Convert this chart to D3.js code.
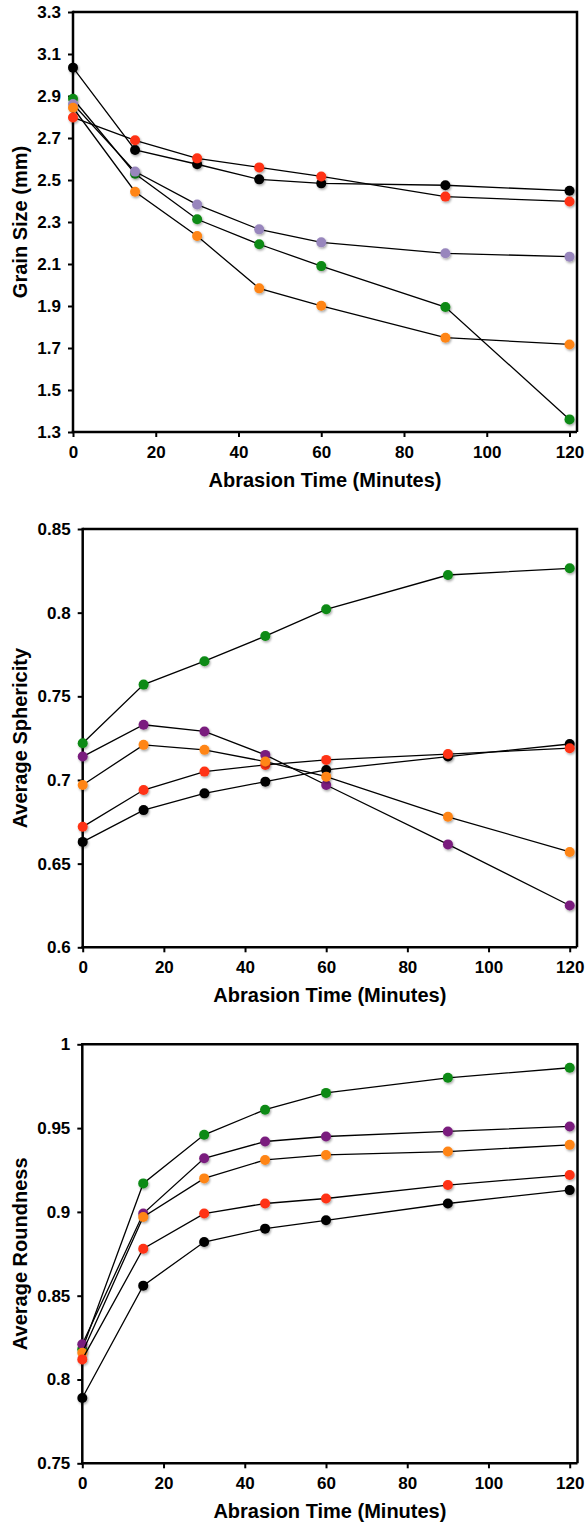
<!DOCTYPE html>
<html>
<head>
<meta charset="utf-8">
<script src="https://cdn.jsdelivr.net/npm/d3@7"></script>
<style>
  body { margin: 0; background: #fff; }
  svg text { font-family: "Liberation Sans", Arial, Helvetica, sans-serif; font-weight: bold; fill: #000; }
  .axis path, .axis line { stroke: #000; }
</style>
</head>
<body>
<div id="canvas"></div>
<script>
// shared x values (abrasion time, minutes)
var minutes = [0, 15, 30, 45, 60, 90, 120];
var xTicks = [0, 20, 40, 60, 80, 100, 120];

// panel 1: grain size (mm)
var grainBlack    = [3.035, 2.643, 2.575, 2.503, 2.484, 2.475, 2.449];
var grainGreen    = [2.887, 2.530, 2.313, 2.194, 2.090, 1.895, 1.360];
var grainLavender = [2.862, 2.540, 2.383, 2.265, 2.203, 2.151, 2.135];
var grainOrange   = [2.844, 2.444, 2.233, 1.984, 1.901, 1.749, 1.717];
var grainRed      = [2.798, 2.689, 2.603, 2.560, 2.517, 2.421, 2.398];
var grainTicks = [1.3, 1.5, 1.7, 1.9, 2.1, 2.3, 2.5, 2.7, 2.9, 3.1, 3.3];

// panel 2: average sphericity
var spherBlack  = [0.663, 0.682, 0.692, 0.699, 0.706, 0.714, 0.7215];
var spherRed    = [0.672, 0.694, 0.705, 0.709, 0.712, 0.7155, 0.719];
var spherPurple = [0.714, 0.733, 0.729, 0.715, 0.697, 0.6615, 0.625];
var spherOrange = [0.697, 0.721, 0.718, 0.711, 0.702, 0.678, 0.657];
var spherGreen  = [0.722, 0.757, 0.771, 0.786, 0.802, 0.8225, 0.8265];
var spherTicks = [0.6, 0.65, 0.7, 0.75, 0.8, 0.85];

// panel 3: average roundness
var roundBlack  = [0.789, 0.856, 0.882, 0.890, 0.895, 0.905, 0.913];
var roundGreen  = [0.818, 0.917, 0.946, 0.961, 0.971, 0.980, 0.986];
var roundPurple = [0.821, 0.899, 0.932, 0.942, 0.945, 0.948, 0.951];
var roundOrange = [0.816, 0.897, 0.920, 0.931, 0.934, 0.936, 0.940];
var roundRed    = [0.812, 0.878, 0.899, 0.905, 0.908, 0.916, 0.922];
var roundTicks = [0.75, 0.8, 0.85, 0.9, 0.95, 1];

var c = {black:'#000000', green:'#0b8a12', lavender:'#9886bd', orange:'#ff8514', red:'#ff3312', purple:'#7a1f7e'};

var panels = [
  {title:'Grain Size (mm)', ticks:grainTicks, fmt:d3.format('.1f'),
   box:{l:73, t:12, b:432, x120:569.5, r:577},
   series:[[grainBlack,c.black],[grainGreen,c.green],[grainLavender,c.lavender],[grainOrange,c.orange],[grainRed,c.red]]},
  {title:'Average Sphericity', ticks:spherTicks, fmt:function(d){return String(+d.toFixed(2));},
   box:{l:82.7, t:529, b:947.3, x120:569.7, r:577},
   series:[[spherBlack,c.black],[spherRed,c.red],[spherPurple,c.purple],[spherOrange,c.orange],[spherGreen,c.green]]},
  {title:'Average Roundness', ticks:roundTicks, fmt:function(d){return String(+d.toFixed(2));},
   box:{l:82.3, t:1044.3, b:1463.3, x120:569.7, r:577.5},
   series:[[roundBlack,c.black],[roundGreen,c.green],[roundPurple,c.purple],[roundOrange,c.orange],[roundRed,c.red]]}
];

var svg = d3.select('#canvas').append('svg')
  .attr('width', 585).attr('height', 1523);

var defs = svg.append('defs');
var f = defs.append('filter').attr('id','shadow').attr('x','-50%').attr('y','-50%').attr('width','200%').attr('height','200%');
f.append('feDropShadow').attr('dx',1).attr('dy',1.5).attr('stdDeviation',1).attr('flood-color','#000').attr('flood-opacity',0.35);

panels.forEach(function(p){
  var b = p.box;
  var x = d3.scaleLinear().domain([0,120]).range([b.l, b.x120]);
  var y = d3.scaleLinear().domain(d3.extent(p.ticks)).range([b.b, b.t]);
  var g = svg.append('g');

  // frame top & right
  g.append('path')
    .attr('d','M' + b.l + ',' + b.t + 'H' + b.r + 'V' + b.b)
    .attr('fill','none').attr('stroke','#000').attr('stroke-width',2.5);

  var axY = g.append('g').attr('class','axis')
    .attr('transform','translate(' + b.l + ',0)')
    .call(d3.axisLeft(y).tickValues(p.ticks).tickFormat(p.fmt).tickSize(5).tickPadding(7).tickSizeOuter(0));
  var axX = g.append('g').attr('class','axis')
    .attr('transform','translate(0,' + b.b + ')')
    .call(d3.axisBottom(x).tickValues(xTicks).tickFormat(d3.format('d')).tickSize(5).tickPadding(9).tickSizeOuter(0));
  [axY, axX].forEach(function(a){
    a.select('.domain').attr('stroke-width',2.5);
    a.selectAll('.tick line').attr('stroke-width',2);
    a.selectAll('text').style('font-size','17px');
  });
  axX.select('.domain').attr('d','M' + (b.l - 1.25) + ',0H' + b.r);
  axY.select('.domain').attr('d','M0,' + b.b + 'V' + (b.t - 1.25));

  g.append('text')
    .attr('x', (b.l + b.r) / 2).attr('y', b.b + 48).attr('dy','0.35em')
    .attr('text-anchor','middle').style('font-size','20px')
    .text('Abrasion Time (Minutes)');
  g.append('text')
    .attr('transform','translate(20,' + (b.t + b.b) / 2 + ') rotate(-90)')
    .attr('dy','0.35em').attr('text-anchor','middle').style('font-size','20px')
    .text(p.title);

  var line = d3.line().x(function(d){return x(d[0]);}).y(function(d){return y(d[1]);});
  p.series.forEach(function(s){
    var pts = minutes.map(function(m,i){return [m, s[0][i]];});
    var sg = g.append('g');
    sg.append('path').datum(pts).attr('d', line)
      .attr('fill','none').attr('stroke','#000').attr('stroke-width',1.3);
    sg.selectAll('circle').data(pts).enter().append('circle')
      .attr('cx', function(d){return x(d[0]);})
      .attr('cy', function(d){return y(d[1]);})
      .attr('r', 5)
      .attr('fill', s[1])
      .attr('filter','url(#shadow)');
  });
});
</script>
</body>
</html>
